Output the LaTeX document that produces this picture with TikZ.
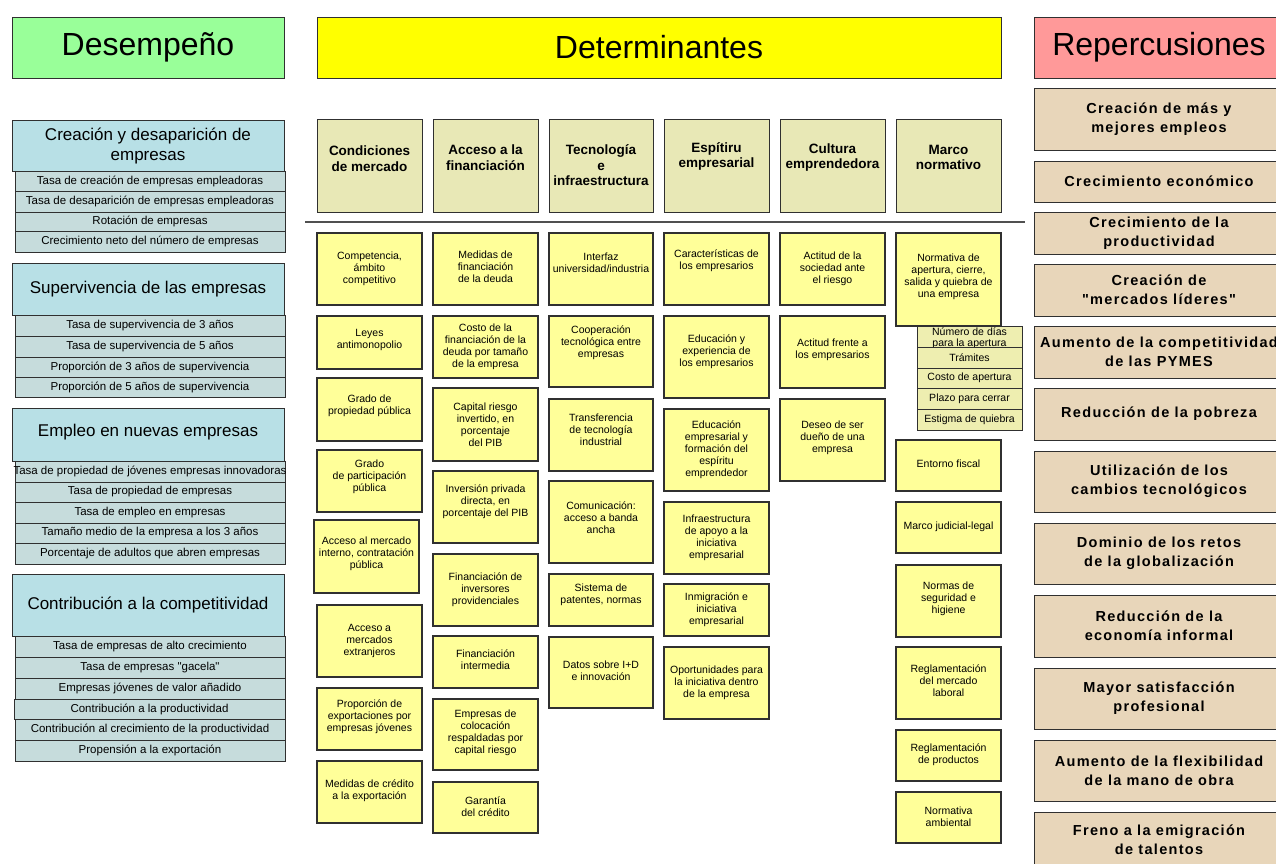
\documentclass[tikz,border=0pt]{standalone}
\usepackage{fontspec}
\setmainfont{Liberation Sans}[Ligatures=TeXOff]
\newfontfamily\rbold{Liberation Sans}[LetterSpace=9]
\definecolor{chg}{HTML}{99FF99}
\definecolor{chy}{HTML}{FFFF00}
\definecolor{chp}{HTML}{FF9999}
\definecolor{clh}{HTML}{B8E0E6}
\definecolor{clr}{HTML}{C6DCDC}
\definecolor{cdt}{HTML}{E8E8B6}
\definecolor{cyb}{HTML}{FFFF99}
\definecolor{csr}{HTML}{EEEEB0}
\definecolor{crb}{HTML}{E8D6BA}
\definecolor{bord}{HTML}{303030}
\definecolor{cline}{HTML}{505050}
\tikzset{
 hbase/.style={draw=bord, line width=1pt, inner sep=0},
 htext/.style={font=\fontsize{32}{36}\selectfont, inner sep=0},
 hg/.style={hbase, fill=chg}, hg text/.style={htext},
 hy/.style={hbase, fill=chy}, hy text/.style={htext},
 hp/.style={hbase, fill=chp}, hp text/.style={htext},
 lh/.style={draw=bord, fill=clh, line width=0.9pt, inner sep=0},
 lh text/.style={font=\fontsize{17}{20}\selectfont, align=center, inner sep=0},
 lr/.style={draw=bord, fill=clr, line width=0.9pt, inner sep=0},
 lr text/.style={font=\fontsize{11.5}{13}\selectfont, inner sep=0},
 dt/.style={draw=bord, fill=cdt, line width=1pt, inner sep=0},
 dt text/.style={font=\bfseries\fontsize{13.5}{15.5}\selectfont, align=center, inner sep=0},
 yb/.style={draw=bord, fill=cyb, line width=1.1pt, inner sep=0},
 yb text/.style={font=\fontsize{10.5}{12}\selectfont, align=center, inner sep=0},
 sr/.style={draw=bord, fill=csr, line width=1pt, inner sep=0},
 sr text/.style={font=\fontsize{10.5}{11}\selectfont, align=center, inner sep=0},
 rb/.style={draw=bord, fill=crb, line width=1pt, inner sep=0},
 rb text/.style={font=\rbold\bfseries\fontsize{14.5}{19}\selectfont, align=center, inner sep=0},
}
% name, style, x1, y1, x2, y2, dy (up), text
\newcommand\bx[8]{%
  \node[#2, minimum width={#5-#3}, minimum height={#6-#4}] (#1) at ({(#3+#5)/2},{(#4+#6)/2}) {};
  \node[#2 text] (#1t) at ([yshift=#7]#1.center) {#8};}
\begin{document}
\begin{tikzpicture}[x=1pt,y=-1pt]
\fill[white] (0,0) rectangle (1276,863);
\useasboundingbox (0,0) rectangle (1276,863);
% headers
\bx{hdes}{hg}{12}{17}{284}{78}{0pt}{Desempeño}
\bx{hdet}{hy}{317}{17}{1001}{78}{0pt}{Determinantes}
\bx{hrep}{hp}{1034}{17}{1284}{78}{0pt}{Repercusiones}
% left column
\bx{l1}{lh}{12}{120}{284}{171}{0pt}{Creación y desaparición de\\empresas}
\bx{l1a}{lr}{15}{171}{285}{191}{0pt}{Tasa de creación de empresas empleadoras}
\bx{l1b}{lr}{15}{191}{285}{212}{0pt}{Tasa de desaparición de empresas empleadoras}
\bx{l1c}{lr}{15}{212}{285}{231}{0pt}{Rotación de empresas}
\bx{l1d}{lr}{15}{231}{285}{252}{0pt}{Crecimiento neto del número de empresas}
\bx{l2}{lh}{12}{263}{284}{315}{0pt}{Supervivencia de las empresas}
\bx{l2a}{lr}{15}{315}{285}{336}{0pt}{Tasa de supervivencia de 3 años}
\bx{l2b}{lr}{15}{336}{285}{357}{0pt}{Tasa de supervivencia de 5 años}
\bx{l2c}{lr}{15}{357}{285}{377}{0pt}{Proporción de 3 años de supervivencia}
\bx{l2d}{lr}{15}{377}{285}{397}{0pt}{Proporción de 5 años de supervivencia}
\bx{l3}{lh}{12}{408}{284}{461}{2pt}{Empleo en nuevas empresas}
\bx{l3a}{lr}{15}{461}{285}{482}{0pt}{Tasa de propiedad de jóvenes empresas innovadoras}
\bx{l3b}{lr}{15}{482}{285}{502}{0pt}{Tasa de propiedad de empresas}
\bx{l3c}{lr}{15}{502}{285}{523}{0pt}{Tasa de empleo en empresas}
\bx{l3d}{lr}{15}{523}{285}{543}{0pt}{Tamaño medio de la empresa a los 3 años}
\bx{l3e}{lr}{15}{543}{285}{564}{0pt}{Porcentaje de adultos que abren empresas}
\bx{l4}{lh}{12}{574}{284}{636}{0pt}{Contribución a la competitividad}
\bx{l4a}{lr}{15}{636}{285}{657}{0pt}{Tasa de empresas de alto crecimiento}
\bx{l4b}{lr}{15}{657}{285}{678}{0pt}{Tasa de empresas "gacela"}
\bx{l4c}{lr}{15}{678}{285}{699}{0pt}{Empresas jóvenes de valor añadido}
\bx{l4d}{lr}{14}{699}{285}{719}{0pt}{Contribución a la productividad}
\bx{l4e}{lr}{15}{719}{285}{740}{0pt}{Contribución al crecimiento de la productividad}
\bx{l4f}{lr}{15}{740}{285}{761}{0pt}{Propensión a la exportación}
% determinant headers
\bx{d1}{dt}{317}{119}{422}{212}{7pt}{Condiciones\\de mercado}
\bx{d2}{dt}{433}{119}{538}{212}{8pt}{Acceso a la\\financiación}
\bx{d3}{dt}{549}{119}{653}{212}{0pt}{Tecnología\\e\\infraestructura}
\bx{d4}{dt}{664}{119}{769}{212}{9pt}{Espítiru\\empresarial}
\bx{d5}{dt}{780}{119}{885}{212}{8pt}{Cultura\\emprendedora}
\bx{d6}{dt}{896}{119}{1001}{212}{8pt}{Marco\\normativo}
\coordinate (sepL) at (305,222);
\coordinate (sepR) at (1025,222);
\draw[cline, line width=2pt] (sepL) -- (sepR);
% column 1
\bx{c1a}{yb}{317}{233}{422}{305}{0pt}{Competencia,\\ámbito\\competitivo}
\bx{c1b}{yb}{317}{316}{422}{369}{3pt}{Leyes\\antimonopolio}
\bx{c1c}{yb}{317}{378}{422}{441}{4pt}{Grado de\\propiedad pública}
\bx{c1d}{yb}{317}{450}{422}{512}{4pt}{Grado\\de participación\\pública}
\bx{c1e}{yb}{314}{520}{419}{593}{3pt}{Acceso al mercado\\interno, contratación\\pública}
\bx{c1f}{yb}{317}{605}{422}{677}{0pt}{Acceso a\\mercados\\extranjeros}
\bx{c1g}{yb}{317}{688}{422}{750}{2pt}{Proporción de\\exportaciones por\\empresas jóvenes}
\bx{c1h}{yb}{317}{761}{422}{823}{1pt}{Medidas de crédito\\a la exportación}
% column 2
\bx{c2a}{yb}{433}{233}{538}{305}{2pt}{Medidas de\\financiación\\de la deuda}
\bx{c2b}{yb}{433}{316}{538}{378}{0pt}{Costo de la\\financiación de la\\deuda por tamaño\\de la empresa}
\bx{c2c}{yb}{433}{388}{538}{461}{0pt}{Capital riesgo\\invertido, en\\porcentaje\\del PIB}
\bx{c2d}{yb}{433}{471}{538}{543}{5pt}{Inversión privada\\directa, en\\porcentaje del PIB}
\bx{c2e}{yb}{433}{554}{538}{626}{0pt}{Financiación de\\inversores\\providenciales}
\bx{c2f}{yb}{433}{636}{538}{688}{2pt}{Financiación\\intermedia}
\bx{c2g}{yb}{433}{699}{538}{770}{2pt}{Empresas de\\colocación\\respaldadas por\\capital riesgo}
\bx{c2h}{yb}{433}{782}{538}{833}{1pt}{Garantía\\del crédito}
% column 3
\bx{c3a}{yb}{549}{233}{653}{305}{6pt}{Interfaz\\universidad/industria}
\bx{c3b}{yb}{549}{316}{653}{387}{9pt}{Cooperación\\tecnológica entre\\empresas}
\bx{c3c}{yb}{549}{399}{653}{471}{5pt}{Transferencia\\de tecnología\\industrial}
\bx{c3d}{yb}{549}{481}{653}{563}{4pt}{Comunicación:\\acceso a banda\\ancha}
\bx{c3e}{yb}{549}{574}{653}{626}{5pt}{Sistema de\\patentes, normas}
\bx{c3f}{yb}{549}{637}{653}{708}{2pt}{Datos sobre I+D\\e innovación}
% column 4
\bx{c4a}{yb}{664}{233}{769}{305}{8pt}{Características de\\los empresarios}
\bx{c4b}{yb}{664}{316}{769}{398}{5pt}{Educación y\\experiencia de\\los empresarios}
\bx{c4c}{yb}{664}{409}{769}{491}{0pt}{Educación\\empresarial y\\formación del\\espíritu\\emprendedor}
\bx{c4d}{yb}{664}{502}{769}{574}{0pt}{Infraestructura\\de apoyo a la\\iniciativa\\empresarial}
\bx{c4e}{yb}{664}{584}{769}{636}{0pt}{Inmigración e\\iniciativa\\empresarial}
\bx{c4f}{yb}{664}{647}{769}{719}{0pt}{Oportunidades para\\la iniciativa dentro\\de la empresa}
% column 5
\bx{c5a}{yb}{780}{233}{885}{305}{0pt}{Actitud de la\\sociedad ante\\el riesgo}
\bx{c5b}{yb}{780}{316}{885}{388}{2pt}{Actitud frente a\\los empresarios}
\bx{c5c}{yb}{780}{399}{885}{481}{2pt}{Deseo de ser\\dueño de una\\empresa}
% column 6
\bx{c6a}{yb}{896}{233}{1001}{326}{3pt}{Normativa de\\apertura, cierre,\\salida y quiebra de\\una empresa}
\bx{s1}{sr}{917}{326}{1022}{347}{-2pt}{Número de días\\para la apertura}
\bx{s2}{sr}{917}{347}{1022}{368}{0pt}{Trámites}
\bx{s3}{sr}{917}{368}{1022}{388}{0pt}{Costo de apertura}
\bx{s4}{sr}{917}{388}{1022}{409}{0pt}{Plazo para cerrar}
\bx{s5}{sr}{917}{409}{1022}{430}{0pt}{Estigma de quiebra}
\bx{c6b}{yb}{896}{440}{1001}{491}{2pt}{Entorno fiscal}
\bx{c6c}{yb}{896}{502}{1001}{553}{1pt}{Marco judicial-legal}
\bx{c6d}{yb}{896}{565}{1001}{637}{2pt}{Normas de\\seguridad e\\higiene}
\bx{c6e}{yb}{896}{647}{1001}{719}{2pt}{Reglamentación\\del mercado\\laboral}
\bx{c6f}{yb}{896}{730}{1001}{781}{1pt}{Reglamentación\\de productos}
\bx{c6g}{yb}{896}{792}{1001}{843}{1pt}{Normativa\\ambiental}
% right column
\bx{r1}{rb}{1034}{88}{1284}{150}{0pt}{Creación de más y\\mejores empleos}
\bx{r2}{rb}{1034}{161}{1284}{202}{0pt}{Crecimiento económico}
\bx{r3}{rb}{1034}{212}{1284}{254}{0pt}{Crecimiento de la\\productividad}
\bx{r4}{rb}{1034}{264}{1284}{316}{0pt}{Creación de\\"mercados líderes"}
\bx{r5}{rb}{1034}{326}{1284}{378}{0pt}{Aumento de la competitividad\\de las PYMES}
\bx{r6}{rb}{1034}{388}{1284}{440}{0pt}{Reducción de la pobreza}
\bx{r7}{rb}{1034}{451}{1284}{512}{0pt}{Utilización de los\\cambios tecnológicos}
\bx{r8}{rb}{1034}{523}{1284}{584}{0pt}{Dominio de los retos\\de la globalización}
\bx{r9}{rb}{1034}{595}{1284}{657}{0pt}{Reducción de la\\economía informal}
\bx{r10}{rb}{1034}{668}{1284}{729}{0pt}{Mayor satisfacción\\profesional}
\bx{r11}{rb}{1034}{740}{1284}{801}{0pt}{Aumento de la flexibilidad\\de la mano de obra}
\bx{r12}{rb}{1034}{812}{1284}{867}{0pt}{Freno a la emigración\\de talentos}
\end{tikzpicture}
\end{document}
